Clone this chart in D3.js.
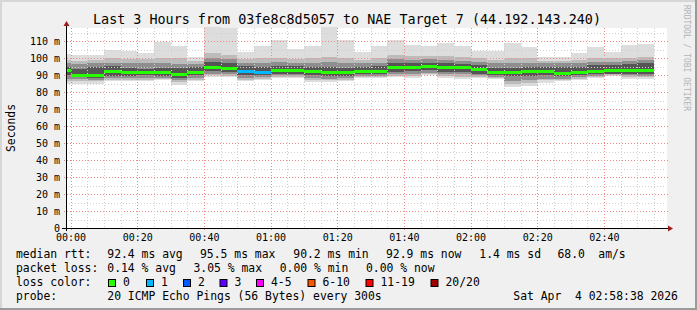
<!DOCTYPE html>
<html>
<head>
<meta charset="utf-8">
<script src="https://cdn.jsdelivr.net/npm/d3@7"></script>
<style>
  body { margin: 0; background: #f0f0f0; }
  svg { display: block; }
  text { font-family: 'DejaVu Sans Mono', monospace; fill: #000; }
</style>
</head>
<body>
<div id="chart"></div>
<script>
// Smokeping style latency chart, 5 minute columns

const colEnd = ['00:00','00:05','00:10','00:15','00:20','00:25','00:30','00:35','00:40','00:45','00:50','00:55',
                '01:00','01:05','01:10','01:15','01:20','01:25','01:30','01:35','01:40','01:45','01:50','01:55',
                '02:00','02:05','02:10','02:15','02:20','02:25','02:30','02:35','02:40','02:45','02:50','02:55'];

// median rtt (ms) per column
const median = [92.9, 90.4, 90.4, 92.3, 91.8, 91.8, 91.8, 91.0, 92.2, 95.1, 94.1, 92.7,
                92.2, 92.9, 92.9, 92.3, 91.8, 91.8, 92.7, 92.7, 95.1, 95.1, 95.5, 94.7,
                94.7, 93.5, 91.8, 91.7, 92.3, 92.3, 91.2, 91.8, 92.3, 92.9, 92.9, 93.2];
// lost pings per column (out of 20)
const loss = [0,0,0,0,0,0,0,0,0,0,0,1, 1,0,0,0,0,0,0,0,0,0,0,0, 0,0,0,0,0,0,0,0,0,0,0,0];

// smoke bands, outer to inner (ms)
const pingMax = [102.8, 101.8, 102.2, 104.8, 104.2, 103.2, 109.5, 107.5, 101.0, 118.3, 118.0, 103.5,
                 107.4, 110.6, 105.5, 107.4, 118.3, 110.6, 103.8, 107.1, 111.1, 108.1, 107.5, 108.9,
                 107.0, 104.6, 104.2, 109.0, 106.6, 100.7, 100.7, 103.0, 106.6, 103.8, 107.7, 108.5];
const pingMin = [85.0, 85.1, 85.1, 86.5, 86.5, 86.5, 87.4, 84.5, 86.8, 89.0, 89.0, 86.8,
                 87.4, 88.2, 88.2, 86.3, 86.3, 86.8, 88.5, 88.5, 88.8, 88.5, 90.0, 88.5,
                 88.1, 88.5, 88.1, 83.0, 83.6, 85.5, 86.5, 87.0, 88.5, 89.5, 88.1, 88.1];
const band2Hi = [99.0, 98.5, 99.0, 100.0, 99.5, 99.5, 100.5, 100.0, 98.5, 103.0, 102.0, 99.5,
                 100.0, 100.5, 99.5, 100.0, 101.0, 100.0, 99.0, 100.0, 102.0, 101.5, 101.5, 101.5,
                 101.0, 100.0, 99.0, 100.0, 100.0, 98.5, 98.5, 99.0, 100.0, 100.0, 100.5, 101.0];
const band2Lo = [86.5, 86.6, 86.5, 87.5, 87.5, 87.5, 88.0, 86.0, 87.5, 90.0, 89.5, 87.5,
                 88.0, 89.0, 89.0, 87.5, 87.0, 87.5, 89.0, 89.0, 89.5, 89.5, 90.5, 89.5,
                 89.0, 89.0, 88.5, 85.0, 85.5, 87.0, 87.5, 88.0, 89.0, 90.0, 89.0, 89.0];
const band3Hi = [97.0, 96.5, 97.0, 97.5, 97.0, 97.0, 97.5, 96.5, 96.5, 100.0, 99.5, 97.0,
                 97.5, 98.0, 97.5, 97.5, 98.0, 97.5, 97.0, 97.5, 99.5, 99.0, 99.5, 99.0,
                 98.5, 98.0, 97.0, 97.5, 97.5, 97.0, 97.0, 97.0, 98.0, 98.0, 98.5, 99.0];
const band3Lo = [88.0, 87.6, 87.5, 88.5, 88.5, 88.5, 88.5, 87.0, 88.5, 91.0, 90.5, 88.5,
                 89.0, 90.0, 90.0, 88.5, 88.0, 88.5, 89.5, 89.5, 90.5, 90.5, 91.5, 90.5,
                 90.5, 90.0, 89.0, 86.5, 87.0, 88.0, 88.0, 89.0, 89.5, 90.5, 90.0, 89.5];
const coreHi = [95.0, 94.0, 95.0, 95.5, 94.5, 94.0, 94.5, 94.5, 95.0, 98.0, 97.0, 95.5,
                95.0, 95.5, 95.5, 95.0, 95.0, 94.5, 95.0, 95.5, 97.5, 97.5, 97.5, 97.0,
                96.5, 96.0, 94.5, 94.5, 95.0, 95.0, 95.0, 95.0, 96.0, 96.0, 96.5, 97.5];
const coreLo = [90.0, 89.0, 88.5, 89.5, 89.5, 90.0, 89.5, 88.5, 90.0, 92.5, 92.0, 90.0,
                90.0, 91.0, 91.0, 90.0, 89.5, 89.5, 90.5, 90.5, 92.0, 92.5, 93.0, 92.0,
                92.0, 91.0, 90.0, 89.5, 89.5, 90.0, 89.5, 90.0, 90.5, 91.0, 91.0, 91.0];

const yTicks = [0, 10, 20, 30, 40, 50, 60, 70, 80, 90, 100, 110];
const xTicks = ['00:00', '00:20', '00:40', '01:00', '01:20', '01:40', '02:00', '02:20', '02:40'];

const lossLabels = ['0', '1', '2', '3', '4-5', '6-10', '11-19', '20/20'];
const lossColors = ['#26ff00', '#00b8ff', '#0059ff', '#5e00ff', '#ff00ff', '#ff5500', '#ff0000', '#a00000'];

const title = 'Last 3 Hours from 03fe8c8d5057 to NAE Target 7 (44.192.143.240)';

const W = 697, H = 310;
const PLOT = { left: 66, right: 666, top: 28, bottom: 228 };

function parseT(s) {
    const [h, m] = s.split(':').map(Number);
    return h === 23 ? new Date(2026, 3, 3, h, m, 0) : new Date(2026, 3, 4, h, m, 0);
}
const tStart = new Date(2026, 3, 3, 23, 58, 38);
const tEnd = new Date(2026, 3, 4, 2, 58, 38);

const svg = d3.select('#chart').append('svg')
    .attr('width', W)
    .attr('height', H);

// canvas and 3D frame
svg.append('rect').attr('width', W).attr('height', H).attr('fill', '#f0f0f0');
svg.append('rect').attr('x', 0).attr('y', 0).attr('width', W).attr('height', 2).attr('fill', '#d6d6d6');
svg.append('rect').attr('x', 0).attr('y', 0).attr('width', 2).attr('height', H).attr('fill', '#d6d6d6');
svg.append('rect').attr('x', 0).attr('y', H - 2).attr('width', W).attr('height', 2).attr('fill', '#9a9a9a');
svg.append('rect').attr('x', W - 2).attr('y', 0).attr('width', 2).attr('height', H).attr('fill', '#9a9a9a');

// scales
const x = d3.scaleTime().domain([tStart, tEnd]).range([PLOT.left, PLOT.right]);
const y = d3.scaleLinear().domain([0, 117.9]).range([PLOT.bottom, PLOT.top]);

svg.append('rect')
    .attr('x', PLOT.left).attr('y', PLOT.top)
    .attr('width', PLOT.right - PLOT.left + 1).attr('height', PLOT.bottom - PLOT.top)
    .attr('fill', '#ffffff');

// columns
const cols = colEnd.map((s, i) => {
    const end = parseT(s);
    let start = new Date(end.getTime() - 5 * 60 * 1000);
    if (start < tStart) start = tStart;
    return { start, end, i };
});

const bands = [
    { hi: pingMax, lo: pingMin, color: '#dddddd' },
    { hi: band2Hi, lo: band2Lo, color: '#bcbcbc' },
    { hi: band3Hi, lo: band3Lo, color: '#8e8e8e' },
    { hi: coreHi, lo: coreLo, color: '#555555' }
];

const smoke = svg.append('g').attr('shape-rendering', 'crispEdges');
bands.forEach(b => {
    smoke.selectAll(null)
        .data(cols)
        .enter().append('rect')
        .attr('x', d => Math.round(x(d.start)))
        .attr('width', d => Math.round(x(d.end)) - Math.round(x(d.start)))
        .attr('y', d => Math.round(y(b.hi[d.i])))
        .attr('height', d => Math.round(y(b.lo[d.i])) - Math.round(y(b.hi[d.i])))
        .attr('fill', b.color);
});

// grid on top of smoke
const grid = svg.append('g').attr('shape-rendering', 'crispEdges');
const minorY = d3.range(5, 118, 10);
grid.selectAll('.gy-minor')
    .data(minorY)
    .enter().append('line')
    .attr('x1', PLOT.left).attr('x2', PLOT.right)
    .attr('y1', d => Math.round(y(d)) + 0.5).attr('y2', d => Math.round(y(d)) + 0.5)
    .attr('stroke', '#cfcfcf').attr('stroke-dasharray', '1,2');
grid.selectAll('.gy-major')
    .data(yTicks.slice(1))
    .enter().append('line')
    .attr('x1', PLOT.left - 2).attr('x2', PLOT.right + 2)
    .attr('y1', d => Math.round(y(d)) + 0.5).attr('y2', d => Math.round(y(d)) + 0.5)
    .attr('stroke', '#f08a8a').attr('stroke-dasharray', '1,2');

const minorX = d3.timeMinute.every(5).range(tStart, tEnd);
grid.selectAll('.gx-minor')
    .data(minorX)
    .enter().append('line')
    .attr('x1', d => Math.round(x(d)) + 0.5).attr('x2', d => Math.round(x(d)) + 0.5)
    .attr('y1', PLOT.top).attr('y2', PLOT.bottom)
    .attr('stroke', '#cfcfcf').attr('stroke-dasharray', '1,2');
grid.selectAll('.gx-major')
    .data(xTicks.map(parseT))
    .enter().append('line')
    .attr('x1', d => Math.round(x(d)) + 0.5).attr('x2', d => Math.round(x(d)) + 0.5)
    .attr('y1', PLOT.top).attr('y2', PLOT.bottom + 2)
    .attr('stroke', '#f08a8a').attr('stroke-dasharray', '1,2');

// median, coloured by loss
svg.append('g').attr('shape-rendering', 'crispEdges')
    .selectAll('rect')
    .data(cols)
    .enter().append('rect')
    .attr('x', d => Math.round(x(d.start)))
    .attr('width', d => Math.round(x(d.end)) - Math.round(x(d.start)))
    .attr('y', d => Math.round(y(median[d.i])) - 1)
    .attr('height', 3)
    .attr('fill', d => lossColors[loss[d.i]]);

// axes
const yAxis = svg.append('g')
    .attr('transform', `translate(${PLOT.left},0)`)
    .call(d3.axisLeft(y)
        .tickValues(yTicks)
        .tickSize(0)
        .tickPadding(6)
        .tickFormat(d => d === 0 ? '0' : d + ' m'));
yAxis.select('.domain').remove();
yAxis.selectAll('text')
    .style('font-family', "'DejaVu Sans Mono', monospace")
    .style('font-size', '10px')
    .attr('fill', '#000');

const xAxis = svg.append('g')
    .attr('transform', `translate(0,${PLOT.bottom})`)
    .call(d3.axisBottom(x)
        .tickValues(xTicks.map(parseT))
        .tickSize(0)
        .tickPadding(6)
        .tickFormat(d3.timeFormat('%H:%M')));
xAxis.select('.domain').remove();
xAxis.selectAll('text')
    .style('font-family', "'DejaVu Sans Mono', monospace")
    .style('font-size', '10px')
    .attr('fill', '#000');

// axis lines and arrows
svg.append('line')
    .attr('x1', PLOT.left + 0.5).attr('x2', PLOT.left + 0.5)
    .attr('y1', PLOT.bottom + 3).attr('y2', PLOT.top - 4)
    .attr('stroke', '#000');
svg.append('line')
    .attr('x1', PLOT.left - 4).attr('x2', PLOT.right + 3)
    .attr('y1', PLOT.bottom + 0.5).attr('y2', PLOT.bottom + 0.5)
    .attr('stroke', '#000');
svg.append('path')
    .attr('d', `M${PLOT.left - 2.5},${PLOT.top - 2} L${PLOT.left + 3.5},${PLOT.top - 2} L${PLOT.left + 0.5},${PLOT.top - 7} Z`)
    .attr('fill', '#9b1c1c');
svg.append('path')
    .attr('d', `M${PLOT.right + 2},${PLOT.bottom - 2.5} L${PLOT.right + 2},${PLOT.bottom + 3.5} L${PLOT.right + 7},${PLOT.bottom + 0.5} Z`)
    .attr('fill', '#9b1c1c');

// title and side labels
svg.append('text')
    .attr('x', 347).attr('y', 24)
    .attr('text-anchor', 'middle')
    .style('font-size', '13.4px')
    .text(title);

svg.append('text')
    .attr('transform', 'translate(15,128) rotate(-90)')
    .attr('text-anchor', 'middle')
    .style('font-size', '11.4px')
    .text('Seconds');

svg.append('text')
    .attr('transform', 'translate(684,5) rotate(90)')
    .attr('text-anchor', 'start')
    .style('font-size', '8px')
    .style('fill', '#b4b4b4')
    .text('RRDTOOL / TOBI OETIKER');

// legend
const legendRows = [
    [[16, 'median rtt:'], [107.3, '92.4 ms avg'], [200, '95.5 ms max'], [293.3, '90.2 ms min'],
     [386, '92.9 ms now'], [479.3, '1.4 ms sd'], [557.5, '68.0'], [598.3, 'am/s']],
    [[16, 'packet loss:'], [107.3, '0.14 % avg'], [193.5, '3.05 % max'], [279.7, '0.00 % min'],
     [366, '0.00 % now']],
    [[16, 'loss color:']],
    [[16, 'probe:'], [107.3, '20 ICMP Echo Pings (56 Bytes) every 300s'], [513.3, 'Sat Apr  4 02:58:38 2026']]
];
const legend = svg.append('g').style('font-size', '11.4px');
legendRows.forEach((row, r) => {
    row.forEach(([lx, txt]) => {
        legend.append('text')
            .attr('x', lx)
            .attr('y', 258 + r * 14)
            .attr('xml:space', 'preserve')
            .style('white-space', 'pre')
            .text(txt);
    });
});

const swatchX = [108, 146, 183, 219.5, 256, 307.5, 365.5, 430.5];
lossLabels.forEach((lab, i) => {
    legend.append('rect')
        .attr('x', swatchX[i] + 0.5).attr('y', 279.5)
        .attr('width', 7).attr('height', 7)
        .attr('fill', lossColors[i])
        .attr('stroke', '#000');
    legend.append('text')
        .attr('x', swatchX[i] + 15)
        .attr('y', 286)
        .text(lab);
});
</script>
</body>
</html>
